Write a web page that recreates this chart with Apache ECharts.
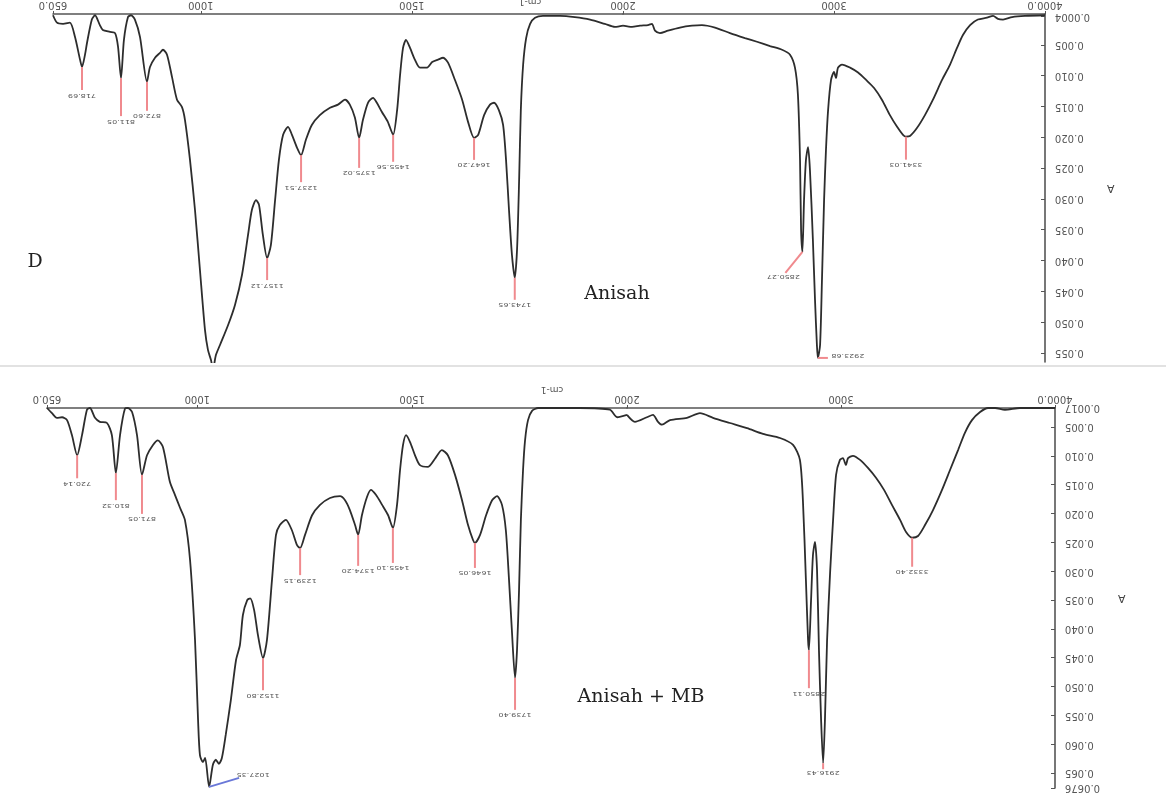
<!DOCTYPE html>
<html>
<head>
<meta charset="utf-8">
<script src="https://cdn.jsdelivr.net/npm/echarts@6/dist/echarts.min.js"></script>
<style>
html,body{margin:0;padding:0;background:#fff;}
#chart{width:1166px;height:803px;}
</style>
</head>
<body>
<div id="chart"></div>
<script>
// FTIR absorbance spectra: [wavenumber cm-1, absorbance]
const anisahSpectrum = [
  [650,0.0002],[659.5,0.0014],[673.7,0.0016],[690,0.0014],[702,0.0037],[714,0.0074],[718.69,0.0086],[725.8,0.0066],
  [730.5,0.0047],[742,0.0009],[749.5,0.0002],[761,0.0018],[768,0.0026],[785,0.0029],[797,0.0031],[804,0.0053],
  [811.05,0.0104],[818,0.0042],[827.6,0.0005],[834.7,0.0002],[844,0.0009],[856,0.0037],[872.6,0.0110],[879.7,0.0086],
  [891.6,0.0071],[903.4,0.0063],[910.5,0.0058],[920,0.0066],[931.8,0.0102],[943.7,0.0139],[955.5,0.0151],[962.6,0.0172],
  [974.5,0.0237],[986.3,0.0318],[998,0.0415],[1010,0.0513],[1017,0.0545],[1024,0.0561],[1029,0.0575],[1036,0.0553],
  [1045.5,0.0537],[1064.5,0.0505],[1081,0.0472],[1097.7,0.0423],[1112,0.0358],[1121,0.0318],[1130.8,0.0302],[1138,0.0310],
  [1147,0.0358],[1157.12,0.0396],[1166,0.0375],[1176,0.0302],[1185,0.0237],[1195,0.0196],[1206.6,0.0183],[1216,0.0196],
  [1228,0.0217],[1237.51,0.0229],[1249,0.0204],[1263,0.0180],[1282,0.0164],[1306,0.0152],[1325,0.0147],[1341.6,0.0139],
  [1353,0.0147],[1365,0.0168],[1375.02,0.0201],[1384,0.0172],[1396,0.0144],[1408,0.0136],[1417,0.0144],[1429,0.0159],
  [1443,0.0175],[1455.56,0.0196],[1465,0.0156],[1472,0.0099],[1479,0.0055],[1486,0.0042],[1495.6,0.0055],[1507,0.0074],
  [1519,0.0087],[1536,0.0087],[1548,0.0078],[1562,0.0074],[1574,0.0071],[1585.6,0.0079],[1602,0.0107],[1619,0.0139],
  [1633,0.0175],[1647.2,0.0201],[1657,0.0196],[1671,0.0164],[1685,0.0147],[1694.5,0.0144],[1706,0.0156],[1716,0.0180],
  [1723,0.0237],[1730,0.0318],[1737,0.0391],[1743.65,0.0428],[1749,0.0383],[1754,0.0269],[1758,0.0156],[1763.5,0.0082],
  [1770.6,0.0039],[1780,0.0016],[1791.6,0.0006],[1810.5,0.0003],[1851,0.0003],[1886,0.0005],[1922,0.0009],[1957,0.0016],
  [1981,0.0021],[2000,0.0019],[2043,0.0021],[2080.6,0.0019],[2118.5,0.0018],[2137,0.0016],[2151.7,0.0027],[2175,0.0031],
  [2213,0.0027],[2270,0.0022],[2327,0.0019],[2374,0.0018],[2436,0.0022],[2507,0.0031],[2578,0.0039],[2635,0.0045],
  [2697,0.0052],[2754,0.0058],[2791.5,0.0066],[2815,0.0087],[2829,0.0131],[2839,0.0237],[2844,0.0350],[2850.27,0.0386],
  [2858,0.0302],[2867,0.0237],[2877,0.0216],[2886,0.0253],[2900,0.0367],[2910,0.0464],[2919,0.0537],[2923.68,0.0558],
  [2934,0.0537],[2943,0.0431],[2953,0.0302],[2962,0.0220],[2972,0.0156],[2986,0.0107],[3000,0.0094],[3009.5,0.0104],
  [3019,0.0087],[3038,0.0082],[3076,0.0087],[3114,0.0095],[3152,0.0107],[3190,0.0120],[3227,0.0139],[3265,0.0164],
  [3299,0.0183],[3327,0.0196],[3341.03,0.0199],[3360,0.0198],[3393,0.0185],[3431,0.0164],[3469,0.0139],[3512,0.0107],
  [3550,0.0082],[3583,0.0055],[3611,0.0034],[3645,0.0018],[3682,0.0009],[3725,0.0006],[3754,0.0003],[3777,0.0008],
  [3801,0.0009],[3844,0.0005],[3905,0.0003],[4000,0.0002]
];

const anisahMbSpectrum = [
  [650,0.0017],[661.6,0.0026],[673,0.0034],[685,0.0033],[696.6,0.0038],[708,0.0064],[720.14,0.0099],[731.5,0.0064],
  [743,0.0020],[750,0.0017],[761.7,0.0034],[773,0.0041],[789.7,0.0043],[801,0.0064],[810.32,0.0130],[820,0.0064],
  [831.6,0.0018],[838.5,0.0017],[848,0.0024],[859.5,0.0064],[871.05,0.0133],[882.8,0.0099],[896.7,0.0081],[908,0.0073],
  [920,0.0085],[936,0.0145],[948,0.0168],[959.6,0.0190],[971,0.0211],[983,0.0281],[994.5,0.0419],[1001.6,0.0558],
  [1006,0.0619],[1013,0.0631],[1018,0.0624],[1027.35,0.0674],[1036,0.0636],[1043,0.0627],[1050,0.0634],[1057,0.0624],
  [1066,0.0584],[1078,0.0523],[1090,0.0454],[1099,0.0428],[1106,0.0376],[1116,0.0350],[1123,0.0347],[1132,0.0367],
  [1141,0.0411],[1152.8,0.0451],[1162,0.0419],[1173.7,0.0315],[1183,0.0237],[1192,0.0220],[1206,0.0211],[1220,0.0229],
  [1232,0.0255],[1239.15,0.0260],[1250.6,0.0237],[1267,0.0203],[1285.5,0.0185],[1308.7,0.0173],[1332,0.0170],[1343.7,0.0177],
  [1355,0.0194],[1367,0.0220],[1374.2,0.0237],[1383,0.0203],[1395,0.0171],[1404,0.0159],[1416,0.0168],[1430,0.0185],
  [1444,0.0203],[1455.1,0.0225],[1464.7,0.0185],[1471.7,0.0125],[1478.7,0.0081],[1485.7,0.0064],[1495,0.0076],[1506.6,0.0099],
  [1518,0.0116],[1537,0.0119],[1553,0.0105],[1569,0.0090],[1583,0.0099],[1599.7,0.0133],[1616,0.0177],[1630,0.0220],
  [1641.6,0.0246],[1646.05,0.0251],[1658,0.0237],[1672,0.0203],[1686,0.0177],[1697.5,0.0170],[1709,0.0185],[1718,0.0229],
  [1725.4,0.0315],[1732,0.0402],[1739.4,0.0485],[1744,0.0437],[1748.7,0.0333],[1753,0.0211],[1758,0.0125],[1762.7,0.0073],
  [1769.6,0.0038],[1779,0.0022],[1793,0.0017],[1821,0.0017],[1856,0.0017],[1890,0.0017],[1960,0.0020],[1977,0.0033],
  [2000,0.0029],[2037,0.0041],[2093,0.0033],[2121.5,0.0029],[2145,0.0041],[2163.5,0.0046],[2201,0.0038],[2280,0.0034],
  [2341,0.0026],[2402,0.0034],[2481,0.0043],[2561,0.0052],[2635.5,0.0062],[2715,0.0069],[2776,0.0081],[2808,0.0107],
  [2822,0.0177],[2836,0.0315],[2846,0.0419],[2850.11,0.0437],[2860,0.0351],[2869,0.0272],[2878.5,0.0249],[2888,0.0298],
  [2897,0.0437],[2907,0.0558],[2916.43,0.0633],[2925,0.0558],[2935,0.0419],[2949,0.0303],[2963,0.0211],[2977,0.0133],
  [2995,0.0107],[3009,0.0104],[3023,0.0116],[3033,0.0104],[3056,0.0100],[3089,0.0107],[3126,0.0121],[3163.5,0.0138],
  [3201,0.0159],[3238,0.0185],[3276,0.0211],[3304,0.0232],[3332.4,0.0242],[3360,0.0239],[3392.5,0.0220],[3430,0.0194],
  [3472,0.0159],[3509,0.0125],[3547,0.0090],[3579,0.0060],[3612,0.0038],[3650,0.0024],[3687,0.0017],[3720,0.0017],
  [3766,0.0020],[3836.5,0.0017],[4000,0.0017]
];

// labelled band positions [wavenumber, absorbance]
const anisahPeaks = [
  [718.69,0.0086],[811.05,0.0104],[872.60,0.0110],[1157.12,0.0396],[1237.51,0.0229],[1375.02,0.0201],
  [1455.56,0.0196],[1647.20,0.0201],[1743.65,0.0428],[2850.27,0.0386],[2923.68,0.0558],[3341.03,0.0199]
];
const anisahMbPeaks = [
  [720.14,0.0099],[810.32,0.0130],[871.05,0.0133],[1027.35,0.0674],[1152.80,0.0451],[1239.15,0.0260],
  [1374.20,0.0237],[1455.10,0.0225],[1646.05,0.0251],[1739.40,0.0485],[2850.11,0.0437],[2916.43,0.0633],[3332.40,0.0242]
];

// axis tick labels
const wnTickLabelsLow = ['650.0','1000','1500','2000'];
const wnTickLabelsHigh = ['3000','4000.0'];
const absTickLabelsA = ['0.0004','0.005','0.010','0.015','0.020','0.025','0.030','0.035','0.040','0.045','0.050','0.055'];
const absTickLabelsB = ['0.0017','0.005','0.010','0.015','0.020','0.025','0.030','0.035','0.040','0.045','0.050','0.055','0.060','0.065','0.0676'];

// leader line styles for the band labels (pixel offsets)
const PINK = '#f08a8e';
const leadersA = [
  {dy:23},{dy:38},{dy:29},{dy:22},{dy:27},{dy:30},{dy:27},{dy:22},{dy:22},
  {dx:-17,dy:21,tx:-2,ty:4},{dx:10,dy:0,tx:20,ty:-2},{dy:23}
];
const leadersB = [
  {dy:23},{dy:27},{dy:39},{dx:30,dy:-9,tx:14,ty:-3,color:'#6a78d8'},{dy:32},{dy:27},{dy:31},{dy:35},{dy:25},{dy:32},{dy:38},{dy:6,ty:3},{dy:29}
];

const chart = echarts.init(document.getElementById('chart'), null, {renderer:'canvas'});

const AX = '#555';
const tickFont = {fontFamily:'DejaVu Sans', fontSize:10, color:'#555'};

function toVals(labels){ return labels.map(s => parseFloat(s)); }
function labelFor(labels){
  const vals = toVals(labels);
  return v => {
    let best = 0;
    vals.forEach((t,i)=>{ if (Math.abs(t-v) < Math.abs(vals[best]-v)) best = i; });
    return labels[best];
  };
}

function xAxis(gridIndex, min, max, labels){
  const vals = toVals(labels);
  return {
    type:'value', gridIndex, min, max, position:'top',
    axisLine:{show:true, onZero:false, lineStyle:{color:AX, width:1.6}},
    axisTick:{show:true, inside:false, length:3, customValues:vals, lineStyle:{color:AX}},
    axisLabel:Object.assign({show:true, customValues:vals, rotate:180, margin:4, formatter:labelFor(labels)}, tickFont),
    splitLine:{show:false}
  };
}

function yAxis(gridIndex, min, max, labels, visible, nameGap){
  const vals = toVals(labels);
  return {
    type:'value', gridIndex, min, max, inverse:true, position:'right', show:visible,
    name:'A', nameLocation:'middle', nameGap, nameRotate:180,
    nameTextStyle:{fontFamily:'DejaVu Sans', fontSize:11, color:'#444'},
    axisLine:{show:true, onZero:false, lineStyle:{color:AX, width:1.6}},
    axisTick:{show:true, inside:true, length:4, customValues:vals, lineStyle:{color:AX}},
    axisLabel:Object.assign({show:true, customValues:vals, rotate:180, margin:10, formatter:labelFor(labels)}, tickFont),
    splitLine:{show:false}
  };
}

function lineSeries(idx, pts){
  return {
    type:'line', xAxisIndex:idx, yAxisIndex:idx, data:pts, showSymbol:false, smooth:0.25,
    clip:true, lineStyle:{color:'#2d2d2d', width:1.8}, silent:true
  };
}

function leaderSeries(idx, peaks, styles, keep){
  const data = [];
  peaks.forEach((p,i) => { if (keep(p[0])) data.push([p[0], p[1], i]); });
  return {
    type:'custom', xAxisIndex:idx, yAxisIndex:idx, clip:false, silent:true, z:5,
    data,
    renderItem(params, api){
      const wn = api.value(0), ab = api.value(1), i = api.value(2);
      const pt = api.coord([wn, ab]);
      const st = styles[i];
      const ex = pt[0] + (st.dx || 0), ey = pt[1] + st.dy;
      const tx = ex + (st.tx || 0), ty = ey + (st.ty != null ? st.ty : 5);
      return {type:'group', children:[
        {type:'line', shape:{x1:pt[0], y1:pt[1], x2:ex, y2:ey}, style:{stroke:st.color || PINK, lineWidth:2}},
        {type:'text', x:tx, y:ty, rotation:Math.PI, scaleY:0.7,
          style:{text:wn.toFixed(2), fontFamily:'DejaVu Sans', fontSize:8, fill:'#555', align:'center', verticalAlign:'middle'}}
      ]};
    }
  };
}

const low = w => w <= 2000, high = w => w > 2000;
const split = (pts, f) => pts.filter(p => f === low ? p[0] <= 2000 : p[0] >= 2000);

const A_MAX = 0.05646, B_MIN = 0.0017, B_MAX = 0.0676;

const option = {
  animation:false,
  backgroundColor:'#fff',
  grid:[
    {left:53, top:14, width:570, height:348},
    {left:623, top:14, width:422, height:348},
    {left:47, top:408, width:580, height:380},
    {left:627, top:408, width:428, height:380}
  ],
  xAxis:[
    xAxis(0, 650, 2000, wnTickLabelsLow),
    xAxis(1, 2000, 4000, wnTickLabelsHigh),
    xAxis(2, 650, 2000, wnTickLabelsLow),
    xAxis(3, 2000, 4000, wnTickLabelsHigh)
  ],
  yAxis:[
    yAxis(0, 0, A_MAX, absTickLabelsA, false, 62),
    yAxis(1, 0, A_MAX, absTickLabelsA, true, 62),
    yAxis(2, B_MIN, B_MAX, absTickLabelsB, false, 63),
    yAxis(3, B_MIN, B_MAX, absTickLabelsB, true, 63)
  ],
  series:[
    lineSeries(0, split(anisahSpectrum, low)),
    lineSeries(1, split(anisahSpectrum, high)),
    lineSeries(2, split(anisahMbSpectrum, low)),
    lineSeries(3, split(anisahMbSpectrum, high)),
    leaderSeries(0, anisahPeaks, leadersA, low),
    leaderSeries(1, anisahPeaks, leadersA, high),
    leaderSeries(2, anisahMbPeaks, leadersB, low),
    leaderSeries(3, anisahMbPeaks, leadersB, high)
  ],
  graphic:[
    {type:'line', shape:{x1:0, y1:366, x2:1166, y2:366}, style:{stroke:'#d9d9d9', lineWidth:1.5}, silent:true},
    {type:'text', x:35, y:262, style:{text:'D', fontFamily:'DejaVu Serif', fontSize:19, fill:'#222', align:'center', verticalAlign:'middle'}},
    {type:'text', x:617, y:294, style:{text:'Anisah', fontFamily:'DejaVu Serif', fontSize:19, fill:'#222', align:'center', verticalAlign:'middle'}},
    {type:'text', x:641, y:697, style:{text:'Anisah + MB', fontFamily:'DejaVu Serif', fontSize:19, fill:'#222', align:'center', verticalAlign:'middle'}},
    {type:'text', x:530, y:1, rotation:Math.PI, style:{text:'cm-1', fontFamily:'DejaVu Sans', fontSize:9, fill:'#555', align:'center', verticalAlign:'middle'}},
    {type:'text', x:552, y:389, rotation:Math.PI, style:{text:'cm-1', fontFamily:'DejaVu Sans', fontSize:9, fill:'#555', align:'center', verticalAlign:'middle'}}
  ]
};

chart.setOption(option);
</script>
</body>
</html>
